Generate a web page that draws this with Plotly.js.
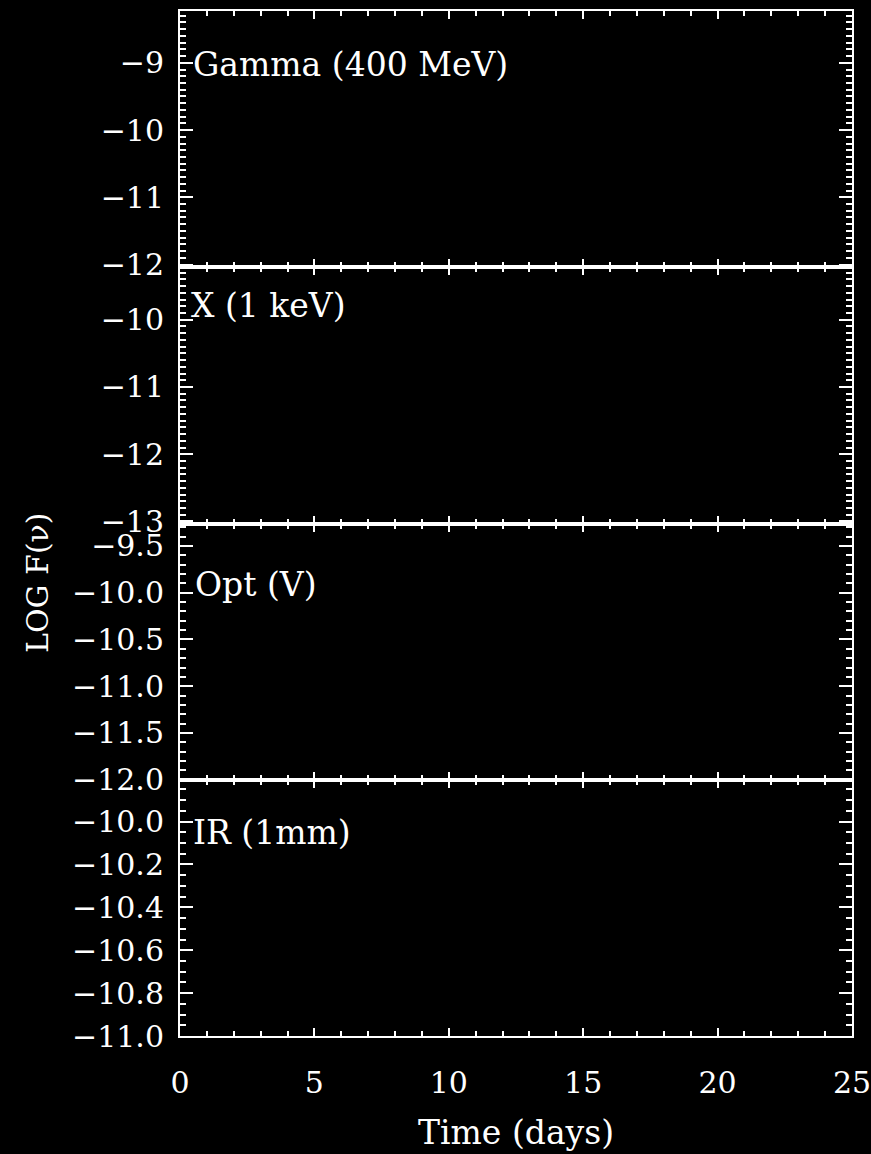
<!DOCTYPE html>
<html>
<head>
<meta charset="utf-8">
<script src="https://cdn.plot.ly/plotly-3.0.1.min.js"></script>
<style>
  html, body { margin: 0; padding: 0; background: #000; }
  #chart { width: 871px; height: 1154px; }
</style>
</head>
<body>
<div id="chart"></div>
<script>
// Light curves in four energy bands, stacked panels sharing the time axis.
const panelLabels = ['Gamma (400 MeV)', 'X (1 keV)', 'Opt (V)', 'IR (1mm)'];
const yRanges = [[-12.04, -8.23], [-13.03, -9.22], [-12.0, -9.26], [-11.0, -9.805]];
const yMajorStep = [1, 1, 0.5, 0.2];
const yMinorStep = [0.1, 0.1, 0.1, 0.05];
const yTickFormat = ['', '', '.1f', '.1f'];
const timeRange = [0, 25];
const timeMajorStep = 5;
const timeMinorStep = 1;
// Light-curve samples per band (none plotted in this figure).
const timeDays = [[], [], [], []];
const logFlux = [[], [], [], []];

const xTitle = 'Time (days)';
const yTitle = 'LOG F(ν)';

const FONT = 'DejaVu Serif';
const WHITE = '#ffffff';
const nPanels = panelLabels.length;
// label anchor inside each panel: [days, log flux]
const labelAnchor = [[0.42, -9.03], [0.32, -9.79], [0.5, -9.91], [0.42, -10.05]];

const traces = [];
const layout = {
  width: 871,
  height: 1154,
  margin: { l: 180, r: 19, t: 11, b: 118 },
  paper_bgcolor: '#000000',
  plot_bgcolor: '#000000',
  showlegend: false,
  font: { family: FONT, color: WHITE, size: 30 },
  annotations: []
};

for (let i = 0; i < nPanels; i++) {
  const n = i + 1;
  const xName = n === 1 ? 'xaxis' : 'xaxis' + n;
  const yName = n === 1 ? 'yaxis' : 'yaxis' + n;
  const xRef = n === 1 ? 'x' : 'x' + n;
  const yRef = n === 1 ? 'y' : 'y' + n;
  const top = 1 - i / nPanels;
  const bottom = 1 - (i + 1) / nPanels;

  traces.push({
    type: 'scatter', mode: 'lines',
    x: timeDays[i], y: logFlux[i],
    xaxis: xRef, yaxis: yRef,
    line: { color: WHITE, width: 2 },
    hoverinfo: 'skip'
  });

  layout[xName] = {
    anchor: yRef,
    domain: [0, 1],
    range: timeRange,
    autorange: false,
    showgrid: false,
    zeroline: false,
    showline: true,
    linecolor: WHITE,
    linewidth: 2,
    mirror: 'allticks',
    ticks: 'inside',
    ticklen: 8,
    tickwidth: 2,
    tickcolor: WHITE,
    tick0: 0,
    dtick: timeMajorStep,
    minor: { ticks: 'inside', dtick: timeMinorStep, ticklen: 5, tickwidth: 2, tickcolor: WHITE, showgrid: false },
    showticklabels: i === nPanels - 1,
    ticklabelstandoff: 19,
    ticklabeloverflow: 'allow',
    tickfont: { family: FONT, size: 30, color: WHITE }
  };
  if (i !== nPanels - 1) layout[xName].matches = 'x' + nPanels;

  const yAx = {
    anchor: xRef,
    domain: [bottom, top],
    range: yRanges[i],
    autorange: false,
    showgrid: false,
    zeroline: false,
    showline: true,
    linecolor: WHITE,
    linewidth: 2,
    mirror: 'allticks',
    ticks: 'inside',
    ticklen: 13,
    tickwidth: 2,
    tickcolor: WHITE,
    tick0: 0,
    dtick: yMajorStep[i],
    minor: { ticks: 'inside', dtick: yMinorStep[i], ticklen: 6, tickwidth: 2, tickcolor: WHITE, showgrid: false },
    ticklabelstandoff: 8,
    tickfont: { family: FONT, size: 30, color: WHITE }
  };
  if (yTickFormat[i]) yAx.tickformat = yTickFormat[i];
  layout[yName] = yAx;

  layout.annotations.push({
    xref: xRef, yref: yRef,
    x: labelAnchor[i][0], y: labelAnchor[i][1],
    xanchor: 'left', yanchor: 'middle',
    text: panelLabels[i],
    showarrow: false,
    font: { family: FONT, size: 33, color: WHITE }
  });
}

// shared axis titles
layout.annotations.push({
  xref: 'paper', yref: 'paper',
  x: 0.5, y: -0.0946,
  xanchor: 'center', yanchor: 'middle',
  text: xTitle, showarrow: false,
  font: { family: FONT, size: 33, color: WHITE }
});
layout.annotations.push({
  xref: 'paper', yref: 'paper',
  x: -0.2113, y: 0.442,
  xanchor: 'center', yanchor: 'middle',
  textangle: -90,
  text: yTitle, showarrow: false,
  font: { family: FONT, size: 30, color: WHITE }
});

Plotly.newPlot('chart', traces, layout, { staticPlot: true, displayModeBar: false });
</script>
</body>
</html>
